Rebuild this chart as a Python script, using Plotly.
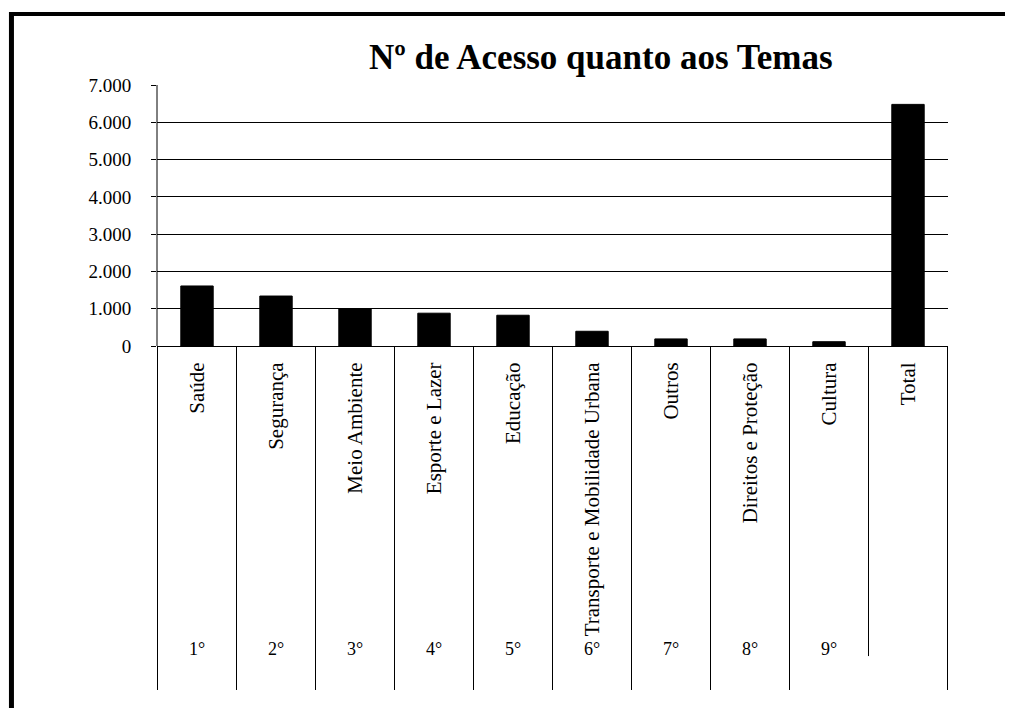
import plotly.graph_objects as go

categories = ["Saúde", "Segurança", "Meio Ambiente", "Esporte e Lazer", "Educação",
              "Transporte e Mobilidade Urbana", "Outros", "Direitos e Proteção",
              "Cultura", "Total"]
values = [1610, 1340, 1000, 880, 825, 395, 190, 190, 115, 6480]
ranks = ["1°", "2°", "3°", "4°", "5°", "6°", "7°", "8°", "9°"]
rank_categories = categories[:9]
y_ticks = [0, 1000, 2000, 3000, 4000, 5000, 6000, 7000]

SERIF = "Liberation Serif, Times New Roman, serif"

fig = go.Figure()
fig.add_trace(go.Bar(
    x=categories, y=values,
    marker=dict(color="black", line=dict(color="black", width=1)),
    showlegend=False, hoverinfo="x+y",
))

shapes = []
# vertical dividers of the category table below the axis
n = len(categories)
for i in range(n + 1):
    y_bottom = -1.318
    if i == 9:
        y_bottom = -1.188
    shapes.append(dict(type="line", xref="x", yref="paper",
                       x0=i - 0.5, x1=i - 0.5, y0=y_bottom, y1=0,
                       line=dict(color="black", width=1)))
# y axis line
shapes.append(dict(type="line", xref="paper", yref="paper", x0=0, x1=0, y0=0, y1=1,
                   line=dict(color="black", width=1)))
# scanned page border (top and left)
shapes.append(dict(type="line", xref="paper", yref="paper", x0=-0.186, x1=1.09,
                   y0=1.272, y1=1.272, line=dict(color="black", width=4)))
shapes.append(dict(type="line", xref="paper", yref="paper", x0=-0.184, x1=-0.184,
                   y0=1.28, y1=-1.40, line=dict(color="black", width=5)))

annotations = []
for r, c in zip(ranks, rank_categories):
    annotations.append(dict(text=r, x=c, xref="x", y=-1.16, yref="paper",
                            showarrow=False, xanchor="center", yanchor="middle",
                            font=dict(family=SERIF, size=18, color="black")))

fig.update_layout(
    width=1005, height=700,
    margin=dict(l=149, r=65, t=77, b=362, autoexpand=False),
    paper_bgcolor="white", plot_bgcolor="white",
    separators=",.",
    bargap=0.59,
    title=dict(text="<b>Nº de Acesso quanto aos Temas</b>", x=0.561, xref="paper",
               xanchor="center", y=0.93, yanchor="middle",
               font=dict(family=SERIF, size=35, color="black")),
    xaxis=dict(type="category", showgrid=False, showline=True, linecolor="black",
               linewidth=1, ticks="", tickangle=-90, ticklabelstandoff=7,
               tickfont=dict(family=SERIF, size=21, color="black"), fixedrange=True),
    yaxis=dict(range=[0, 7000], tickvals=y_ticks, tickformat=",d",
               showgrid=True, gridcolor="black", gridwidth=1,
               showline=False, ticks="outside", ticklen=5, tickcolor="black",
               ticklabelstandoff=16, zeroline=False,
               tickfont=dict(family=SERIF, size=19, color="black"), fixedrange=True),
    shapes=shapes,
    annotations=annotations,
)

fig.write_html("out.html")
